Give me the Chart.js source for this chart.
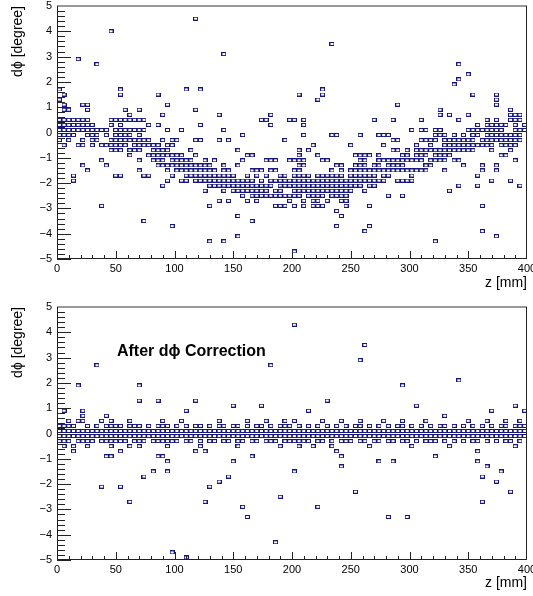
<!DOCTYPE html>
<html>
<head>
<meta charset="utf-8">
<script src="https://cdn.jsdelivr.net/npm/chart.js@4.4.1/dist/chart.umd.min.js"></script>
<style>
  body { margin: 0; background: #fff; width: 533px; height: 596px; overflow: hidden; position: relative; }
  canvas { position: absolute; left: 0; }
</style>
</head>
<body>
<canvas id="before" width="533" height="296" style="top:0"></canvas>
<canvas id="after" width="533" height="300" style="top:296px"></canvas>
<script>
// z bin centres [mm]
const zBins = [2, 6, 10, 14, 18, 22, 26, 30, 34, 38, 42, 46, 50, 54, 58, 62, 66, 70, 74, 78,
  82, 86, 90, 94, 98, 102, 106, 110, 114, 118, 122, 126, 130, 134, 138, 142, 146, 150, 154, 158,
  162, 166, 170, 174, 178, 182, 186, 190, 194, 198, 202, 206, 210, 214, 218, 222, 226, 230, 234, 238,
  242, 246, 250, 254, 258, 262, 266, 270, 274, 278, 282, 286, 290, 294, 298, 302, 306, 310, 314, 318,
  322, 326, 330, 334, 338, 342, 346, 350, 354, 358, 362, 366, 370, 374, 378, 382, 386, 390, 394, 398];

// dphi [degree] entries in each z bin, before correction
const phiBefore = [
  [1.7, 1.3, 0.5, 0.3, 0.1, -0.1, -0.3],
  [1.5, 1.1, 0.9, 0.5, 0.3, 0.1, -0.1, -0.5],
  [0.9, 0.5, 0.3, 0.1, -0.1, -0.3],
  [0.5, 0.3, 0.1, -0.1, -1.7, -1.9],
  [2.9, 0.5, 0.3, 0.1, -0.5],
  [1.1, 0.5, 0.3, 0.1, -0.3, -0.5, -1.3],
  [1.1, 0.9, 0.5, 0.3, 0.1, -0.1, -1.5],
  [0.3, 0.1, -0.1, -0.3, -0.5],
  [2.7, 0.1, -0.1, -0.3],
  [0.1, -0.5, -1.1, -2.9],
  [0.1, -0.1, -0.5, -1.3],
  [4.0, 0.5, 0.3, -0.3, -0.5, -0.7],
  [0.5, 0.1, -0.1, -0.3, -0.5, -0.7, -1.7],
  [1.7, 1.5, 0.5, 0.3, 0.1, -0.1, -0.3, -0.5, -0.7, -1.7],
  [0.9, 0.5, 0.1, -0.1, -0.3, -0.5],
  [0.7, 0.5, 0.1, -0.1, -0.3, -0.7, -0.9],
  [0.5, 0.1, -0.3, -0.5, -0.7],
  [0.9, 0.5, 0.1, -0.1, -0.3, -0.5, -0.7, -1.1, -1.5],
  [0.5, 0.1, -0.3, -0.5, -1.7, -3.5],
  [0.3, -0.3, -0.5, -0.9, -1.7],
  [-0.5, -0.7, -0.9, -1.1],
  [1.5, 0.3, -0.5, -0.7, -0.9, -1.1, -1.3],
  [0.7, -0.3, -0.7, -0.9, -1.1, -1.3, -2.1],
  [1.1, 0.1, -0.5, -0.7, -0.9, -1.3, -1.5, -1.9],
  [-0.3, -0.5, -0.9, -1.1, -1.3, -1.7, -3.7],
  [-0.3, -0.9, -1.1, -1.3, -1.5],
  [0.1, -0.9, -1.1, -1.3, -1.5, -1.9],
  [1.7, -1.1, -1.3, -1.5, -1.7, -1.9],
  [-0.7, -1.1, -1.3, -1.5, -1.7],
  [4.5, 0.9, -0.3, -0.9, -1.3, -1.5, -1.7, -1.9],
  [1.7, 0.3, -0.3, -1.3, -1.5, -1.7, -1.9],
  [-1.1, -1.3, -1.5, -1.7, -1.9, -2.3],
  [-1.3, -1.5, -1.7, -1.9, -2.1, -2.9, -4.3],
  [-1.1, -1.5, -1.7, -1.9, -2.1],
  [0.7, -0.3, -1.7, -1.9, -2.1, -2.7],
  [3.1, 0.1, -1.3, -1.5, -1.7, -1.9, -2.1, -2.3, -4.3],
  [-0.3, -1.5, -1.7, -1.9, -2.1, -2.7],
  [-1.7, -1.9, -2.1, -2.3],
  [-0.7, -1.3, -1.9, -2.1, -2.3, -3.3, -4.1],
  [-0.1, -1.1, -1.9, -2.1, -2.3, -2.5],
  [-0.9, -1.7, -1.9, -2.1, -2.3, -2.7],
  [-0.9, -1.5, -1.9, -2.1, -2.3, -2.5, -3.5],
  [-1.5, -1.7, -2.1, -2.3, -2.5, -2.7],
  [0.5, -1.5, -1.9, -2.1, -2.3, -2.5],
  [0.5, -1.1, -1.7, -2.1, -2.3, -2.5],
  [0.7, 0.3, -1.1, -1.5, -1.9, -2.1, -2.5],
  [-1.1, -1.5, -1.9, -2.3, -2.5, -2.9],
  [-1.7, -1.9, -2.1, -2.3, -2.5, -2.9],
  [-0.3, -1.7, -1.9, -2.1, -2.5, -2.9],
  [0.5, -1.1, -1.9, -2.1, -2.5, -2.7],
  [0.5, -1.1, -1.5, -1.7, -1.9, -2.1, -2.3, -2.5, -2.9, -4.7],
  [1.5, -0.7, -0.9, -1.1, -1.3, -1.5, -1.7, -1.9, -2.1, -2.3, -2.5],
  [0.5, 0.3, -0.1, -1.1, -1.3, -1.7, -1.9, -2.1, -2.3, -2.7, -2.9],
  [-0.7, -1.7, -1.9, -2.1, -2.3, -2.5],
  [-0.5, -1.9, -2.1, -2.3, -2.5, -2.7, -2.9],
  [1.3, -0.9, -1.7, -1.9, -2.1, -2.3, -2.5, -2.7, -2.9],
  [1.7, 1.5, -1.1, -1.7, -1.9, -2.1, -2.3, -2.5, -2.9],
  [-1.1, -1.7, -1.9, -2.1, -2.3, -2.7],
  [3.5, -0.1, -1.5, -1.7, -1.9, -2.1, -2.3, -2.5],
  [-0.1, -1.3, -1.7, -1.9, -2.1, -2.3, -2.5, -3.1, -3.7],
  [-1.3, -1.5, -1.7, -1.9, -2.1, -2.3, -2.5, -2.7, -3.3],
  [-1.9, -2.1, -2.3, -2.5, -2.7, -2.9],
  [-0.5, -1.5, -1.7, -1.9, -2.1, -2.3],
  [-0.9, -1.3, -1.5, -1.7, -1.9, -2.1],
  [-0.1, -0.9, -1.1, -1.3, -1.5, -1.7, -1.9, -2.1],
  [-0.9, -1.1, -1.3, -1.5, -1.7, -1.9, -2.3, -3.9],
  [-0.9, -1.5, -1.7, -1.9, -2.1, -2.9, -3.7],
  [0.5, -1.3, -1.5, -1.7, -1.9, -2.1],
  [-0.1, -0.9, -1.1, -1.3, -1.5, -1.9],
  [-0.1, -0.5, -1.1, -1.5, -1.7, -1.9],
  [-0.1, -1.1, -1.3, -1.5, -1.7, -2.5],
  [0.5, -0.3, -0.7, -1.1, -1.3, -1.5],
  [1.1, -0.3, -0.7, -1.1, -1.3, -1.5, -1.9],
  [-0.9, -1.1, -1.3, -1.5, -1.9, -2.5],
  [-0.7, -0.9, -1.1, -1.5, -1.9],
  [0.1, -1.1, -1.5, -1.7, -1.9],
  [-0.5, -0.7, -0.9, -1.1, -1.5],
  [0.5, 0.1, -0.3, -0.7, -0.9, -1.1, -1.5],
  [0.1, -0.3, -0.7, -0.9, -1.3, -1.5],
  [-0.3, -0.5, -0.7, -1.1, -1.3],
  [0.1, -0.1, -0.3, -0.7, -0.9, -1.1, -4.3],
  [0.9, 0.7, 0.1, -0.1, -0.7, -0.9, -1.1],
  [-0.1, -0.3, -0.5, -0.7, -0.9, -1.1, -1.5],
  [0.7, -0.3, -0.5, -0.7, -0.9, -2.3],
  [1.9, -0.1, -0.3, -0.5, -0.7, -1.1],
  [2.7, 2.1, 0.5, -0.3, -0.5, -0.7, -1.1, -2.1],
  [-0.1, -0.3, -0.5, -0.7, -1.3],
  [2.3, 0.7, 0.1, -0.3, -0.5, -0.7],
  [1.5, 0.1, -0.1, -0.3, -0.5, -0.7],
  [0.3, 0.1, -0.1, -0.5, -1.7, -2.1],
  [0.1, -0.3, -0.5, -1.3, -1.5, -2.9, -3.9],
  [0.5, 0.3, 0.1, -0.1, -0.3, -0.5],
  [0.3, 0.1, -0.1, -0.3, -0.5, -0.7, -1.9],
  [1.5, 1.3, 1.1, 0.5, 0.3, 0.1, -0.1, -0.3, -1.3, -1.5, -4.1],
  [0.3, 0.1, -0.1, -0.3, -0.5, -0.9],
  [0.3, -0.1, -0.3, -0.5, -0.9],
  [0.9, 0.7, 0.5, -0.1, -0.3, -0.5, -0.7, -1.9],
  [0.7, 0.5, 0.3, 0.1, -0.1, -0.3, -0.5, -1.1],
  [0.7, 0.5, 0.1, -0.1, -0.3, -2.1],
  [0.3, 0.1]
];

// dphi [degree] entries in each z bin, after correction
const phiAfter = [
  [0.3, 0.1, -0.1, -0.3],
  [0.9, 0.3, 0.1, -0.1, -0.3, -0.5],
  [0.5, 0.3, 0.1, -0.1, -0.3],
  [0.3, 0.1, -0.1, -0.5, -0.7],
  [1.9, 0.5, 0.1, -0.1, -0.3],
  [0.9, 0.7, 0.5, 0.1, -0.1, -0.3],
  [0.3, 0.1, -0.1, -0.3, -0.5],
  [0.1, -0.1, -0.3],
  [2.7, 0.3, 0.1, -0.1],
  [0.5, 0.1, -0.1, -0.3, -2.1],
  [0.7, 0.3, 0.1, -0.1, -0.3, -0.9],
  [0.5, 0.3, 0.1, -0.1, -0.3, -0.5, -0.9],
  [0.3, 0.1, -0.1, -0.3],
  [0.3, 0.1, -0.1, -0.3, -0.7, -2.1],
  [0.1, -0.1, -0.3],
  [0.5, 0.3, 0.1, -0.1, -0.5, -2.7],
  [0.3, 0.1, -0.1, -0.3],
  [1.9, 1.3, 0.3, 0.1, -0.1, -0.3, -0.5],
  [0.1, -0.1, -0.3, -1.7],
  [0.3, 0.1, -0.1],
  [0.1, -0.1, -0.3, -1.5],
  [1.3, 0.3, 0.1, -0.1, -0.3, -0.9],
  [0.5, 0.3, 0.1, -0.1, -0.3, -0.9],
  [0.3, 0.1, -0.1, -0.3, -0.5, -1.1, -1.5],
  [0.1, -0.1, -0.3, -4.7],
  [0.3, 0.1, -0.1, -0.3],
  [0.5, 0.1, -0.1],
  [0.9, 0.3, 0.1, -0.1, -0.3, -4.9],
  [0.1, -0.1, -0.3],
  [1.3, 0.3, 0.1, -0.1, -0.7],
  [0.3, 0.1, -0.1, -0.3, -0.5],
  [0.1, -0.1, -0.7, -2.7],
  [0.3, 0.1, -0.1, -0.3, -2.1],
  [0.1, -0.1, -0.3],
  [0.5, 0.3, 0.1, -0.1, -1.9],
  [0.3, 0.1, -0.1, -0.3],
  [0.1, -0.1, -0.3, -1.7],
  [1.1, 0.3, 0.1, -0.1, -1.1],
  [0.3, 0.1, -0.1, -0.3, -0.5],
  [0.1, -0.1, -0.3, -2.9],
  [0.5, 0.3, 0.1, -0.1, -3.3],
  [0.1, -0.1, -0.3, -0.9],
  [0.3, 0.1, -0.1, -0.3],
  [1.1, 0.3, 0.1, -0.1],
  [0.5, 0.1, -0.1, -0.3],
  [2.7, 0.3, 0.1, -0.1, -0.3],
  [0.1, -0.1, -0.3, -4.3],
  [0.3, 0.1, -0.1, -0.5, -2.5],
  [0.5, 0.3, 0.1, -0.1, -0.3],
  [0.3, 0.1, -0.1, -0.3],
  [4.3, 0.5, 0.1, -0.1, -0.3, -1.5],
  [0.3, 0.1, -0.1, -0.3, -0.5],
  [0.1, -0.1, -0.3],
  [0.9, 0.3, 0.1, -0.1, -0.3],
  [0.1, -0.1, -0.5],
  [0.3, 0.1, -0.1, -0.3, -2.9],
  [0.5, 0.1, -0.1, -0.3],
  [1.3, 0.3, 0.1, -0.1],
  [0.1, -0.1, -0.3, -0.5],
  [0.3, 0.1, -0.1, -0.7],
  [0.5, 0.1, -0.1, -0.3, -0.9, -1.3],
  [0.3, 0.1, -0.1, -0.3],
  [0.1, -0.1, -0.3],
  [0.3, 0.1, -0.1, -2.3],
  [2.9, 0.5, 0.3, 0.1, -0.1, -0.3],
  [3.5, 0.1, -0.1, -0.3],
  [0.3, 0.1, -0.1, -0.5],
  [0.1, -0.1, -0.3],
  [0.3, 0.1, -0.1, -0.3, -1.1],
  [0.5, 0.1, -0.1],
  [0.3, 0.1, -0.1, -0.3, -3.3],
  [0.1, -0.1, -0.3, -1.1],
  [0.3, 0.1, -0.1],
  [1.9, 0.5, 0.3, 0.1, -0.1, -0.3],
  [0.1, -0.1, -0.3, -3.3],
  [0.3, 0.1, -0.1, -0.5],
  [1.1, 0.1, -0.1, -0.3],
  [0.3, 0.1, -0.1],
  [0.5, 0.1, -0.1, -0.3],
  [0.3, 0.1, -0.1, -0.3],
  [0.1, -0.1, -0.3, -0.9],
  [0.3, 0.1, -0.1],
  [0.7, 0.3, 0.1, -0.1, -0.3],
  [0.1, -0.1, -0.5],
  [0.3, 0.1, -0.1, -0.3],
  [2.1, 0.1, -0.1],
  [0.3, 0.1, -0.1, -0.3],
  [0.5, 0.1, -0.1],
  [0.3, 0.1, -0.1, -0.3],
  [0.1, -0.1, -0.3, -0.7, -1.1],
  [0.3, 0.1, -0.1, -1.7, -2.7],
  [0.5, 0.1, -0.1, -0.3, -1.3],
  [0.9, 0.3, 0.1, -0.1],
  [0.1, -0.1, -0.3, -1.9],
  [0.3, 0.1, -0.1, -1.5],
  [0.5, 0.3, 0.1, -0.1, -0.3],
  [0.1, -0.1, -0.3, -2.3],
  [1.1, 0.3, 0.1, -0.1, -0.5],
  [0.5, 0.3, 0.1, -0.1, -0.3],
  [0.9, 0.3, 0.1, -0.1]
];

const zTicks = [0, 50, 100, 150, 200, 250, 300, 350, 400];
const phiTicks = [-5, -4, -3, -2, -1, 0, 1, 2, 3, 4, 5];

const font = 'Liberation Sans, Arial, Helvetica, sans-serif';
const navy = '#16167c';

// small open box like ROOT's "box" draw option
const box = document.createElement('canvas');
box.width = 5; box.height = 4;
const bctx = box.getContext('2d');
bctx.strokeStyle = navy;
bctx.lineWidth = 1;
bctx.strokeRect(0.5, 0.5, 4, 3);

const toPoints = cols => cols.flatMap((phis, i) => phis.map(p => ({ x: zBins[i], y: p })));

// ROOT style frame with inward ticks
const rootFrame = {
  id: 'rootFrame',
  afterDatasetsDraw(chart) {
    const { ctx, chartArea: a, scales: { x, y } } = chart;
    ctx.save();
    ctx.strokeStyle = '#999';
    ctx.lineWidth = 2;
    ctx.beginPath();
    ctx.moveTo(a.left, a.top); ctx.lineTo(a.right, a.top);
    ctx.stroke();
    ctx.strokeStyle = '#222';
    ctx.lineWidth = 1;
    ctx.beginPath();
    ctx.moveTo(a.right - 0.5, a.top); ctx.lineTo(a.right - 0.5, a.bottom);
    ctx.moveTo(a.left + 0.5, a.top); ctx.lineTo(a.left + 0.5, a.bottom);
    ctx.moveTo(a.left, a.bottom - 0.5); ctx.lineTo(a.right, a.bottom - 0.5);
    const zStep = 10, pStep = 0.2;
    for (let i = 0; i < zTicks.length - 1; i++) {
      for (let k = 0; k < 5; k++) {
        const px = Math.round(x.getPixelForValue(zTicks[i] + k * zStep)) + 0.5;
        const len = k === 0 ? 8 : 4;
        ctx.moveTo(px, a.bottom); ctx.lineTo(px, a.bottom - len);
      }
    }
    for (let i = 0; i < phiTicks.length - 1; i++) {
      for (let k = 0; k < 5; k++) {
        const py = Math.round(y.getPixelForValue(phiTicks[i] + k * pStep)) + 0.5;
        const len = k === 0 ? 14 : 8;
        ctx.moveTo(a.left, py); ctx.lineTo(a.left + len, py);
      }
    }
    ctx.stroke();
    const lbl = chart.options.plugins.rootFrame && chart.options.plugins.rootFrame.label;
    if (lbl) {
      ctx.font = 'bold 16px ' + font;
      ctx.fillStyle = '#000';
      ctx.textBaseline = 'middle';
      ctx.fillText(lbl.text, x.getPixelForValue(lbl.z), y.getPixelForValue(lbl.phi));
    }
    ctx.restore();
  }
};

function makeChart(id, cols, areaTop, xHeight, label) {
  return new Chart(document.getElementById(id), {
    type: 'scatter',
    data: {
      datasets: [{
        data: toPoints(cols),
        pointStyle: box,
        pointRadius: 2,
        pointHoverRadius: 2
      }]
    },
    options: {
      responsive: false,
      animation: false,
      layout: { padding: { top: areaTop, right: 6, left: 0, bottom: 0 } },
      plugins: {
        legend: { display: false },
        tooltip: { enabled: false },
        rootFrame: { label }
      },
      scales: {
        x: {
          type: 'linear', min: 0, max: 400,
          afterBuildTicks: s => { s.ticks = zTicks.map(v => ({ value: v })); },
          afterFit: s => { s.height = xHeight; s.paddingLeft = 0; s.paddingRight = 0; },
          grid: { display: false, drawTicks: false },
          border: { display: false },
          ticks: { color: '#000', font: { family: font, size: 11 }, padding: 3, maxRotation: 0 },
          title: { display: true, text: 'z [mm]', align: 'end', color: '#000', font: { family: font, size: 14 }, padding: { top: 0, bottom: 4 } }
        },
        y: {
          type: 'linear', min: -5, max: 5,
          afterBuildTicks: s => { s.ticks = phiTicks.map(v => ({ value: v })); },
          afterFit: s => { s.width = 57; s.paddingTop = 0; s.paddingBottom = 0; },
          grid: { display: false, drawTicks: false },
          border: { display: false },
          ticks: {
            color: '#000', font: { family: font, size: 11 }, padding: 5,
            callback: v => v < 0 ? '\u2212' + Math.abs(v) : String(v)
          },
          title: { display: true, text: 'd\u03d5 [degree]', align: 'end', color: '#000', font: { family: font, size: 14 }, padding: { top: 10, bottom: 0 } }
        }
      }
    },
    plugins: [rootFrame]
  });
}

makeChart('before', phiBefore, 6, 37, null);
makeChart('after', phiAfter, 11, 36, { text: 'After d\u03d5 Correction', z: 51, phi: 3.22 });
</script>
</body>
</html>
